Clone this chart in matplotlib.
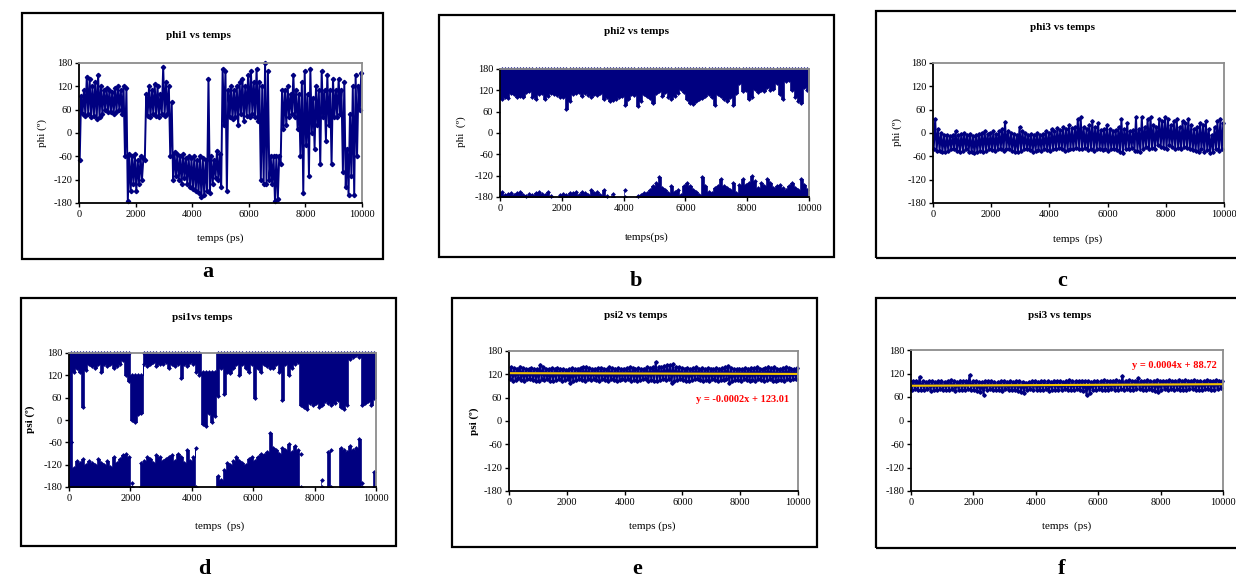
import numpy as np
import matplotlib
matplotlib.use('Agg')
import matplotlib.pyplot as plt
from matplotlib.patches import Rectangle

plt.rcParams['font.family'] = ['Liberation Serif', 'DejaVu Serif']
plt.rcParams['axes.unicode_minus'] = False

W, H = 1236, 578
NAVY = '#000080'

# time bins of 100 ps, each bin gives min / max of the angle (deg)
temps = np.arange(100) * 100

phi1_lo = [-70, 50, 45, 50, 40, 45, 35, 40, 50, 60,
           55, 55, 50, 55, 60, 50, -60, -175, -150, -130,
           -150, -130, -120, -70, 45, 40, 50, 45, 40, 50,
           45, 50, -60, -120, -110, -120, -130, -115, -130, -140,
           -145, -150, -155, -165, -160, -150, -155, -130, -115, -120,
           -140, 20, -150, 40, 35, 40, 20, 50, 30, 45,
           40, 50, 40, 30, -120, -130, -130, -120, -130, -175,
           -170, -80, 10, 20, 40, 50, 40, 10, -60, -155,
           -30, -110, 0, -40, 20, -80, 40, -20, 20, -80,
           40, 40, 50, -100, -140, -160, -110, -160, -60, 60]
phi1_hi = [95, 110, 145, 140, 120, 130, 150, 120, 110, 115,
           110, 105, 115, 120, 110, 120, 115, -55, -60, -55,
           -70, -60, -65, 100, 120, 110, 125, 120, 100, 170,
           130, 120, 80, -50, -55, -60, -55, -65, -60, -65,
           -60, -70, -60, -65, -70, 140, -60, -70, -45, -55,
           165, 160, 110, 120, 110, 120, 130, 140, 120, 150,
           160, 130, 165, 130, 120, 180, 160, -60, -60, -60,
           -60, 110, 110, 120, 100, 150, 110, 100, 130, 160,
           100, 165, 90, 120, 110, 160, 110, 150, 110, 140,
           110, 140, 110, 130, -40, 50, 120, 150, 120, 155]

phi2_up_lo = [95, 100, 98, 112, 110, 100, 105, 102, 115, 118,
              100, 95, 110, 112, 96, 105, 112, 110, 108, 102,
              100, 68, 90, 110, 112, 115, 105, 112, 108, 100,
              110, 106, 112, 95, 100, 90, 92, 95, 100, 105,
              80, 95, 110, 108, 75, 90, 110, 105, 98, 85,
              112, 118, 105, 115, 100, 95, 105, 112, 125, 115,
              95, 85, 82, 90, 95, 98, 105, 110, 100, 80,
              110, 105, 95, 90, 100, 78, 112, 140, 118, 120,
              95, 100, 125, 115, 120, 118, 130, 120, 125, 140,
              110, 95, 145, 150, 120, 100, 90, 85, 130, 120]
nan = np.nan
phi2_dn_hi = [-165, -175, -172, -170, -175, -168, -165, -175, -178, -172,
              -175, -170, -165, -172, -175, -165, -178, nan, nan, -175,
              -172, -175, -168, -170, -165, -175, -165, -170, -175, -160,
              -170, -165, -175, -160, -178, nan, -172, nan, nan, nan,
              -160, nan, nan, nan, -178, -175, -170, -168, -160, -150,
              -140, -125, -155, -160, -170, -150, -165, -160, -175, -150,
              -140, -150, -160, -165, -175, -125, -150, -165, -170, -155,
              -150, -130, -150, -155, -160, -140, -170, -145, -130, -145,
              -140, -120, -135, -155, -140, -150, -130, -140, -155, -150,
              -145, -155, -160, -150, -140, -155, -160, -130, -145, -160]

phi3_lo = [-40, -45, -45, -48, -50, -45, -40, -42, -45, -48,
           -45, -42, -48, -50, -52, -50, -45, -48, -45, -42,
           -44, -46, -40, -42, -45, -40, -42, -45, -50, -48,
           -45, -40, -42, -44, -48, -45, -44, -45, -42, -44,
           -45, -40, -42, -38, -42, -45, -44, -40, -42, -38,
           -40, -42, -38, -44, -40, -45, -42, -40, -44, -42,
           -45, -40, -42, -44, -48, -52, -40, -42, -38, -45,
           -45, -48, -40, -35, -42, -38, -40, -30, -35, -38,
           -40, -32, -35, -40, -38, -42, -35, -38, -40, -44,
           -45, -48, -42, -50, -44, -52, -48, -40, -45, -42]
phi3_hi = [35, 10, 0, -5, -5, -8, -5, 5, -5, -2,
           0, -5, -2, -8, -5, -2, 0, 5, -2, 0,
           5, -2, 5, 10, 28, 5, 0, -2, -5, 15,
           5, 0, -5, -2, -5, 0, -5, -2, 5, 0,
           10, 5, 12, 8, 15, 10, 20, 12, 15, 35,
           40, 15, 10, 20, 30, 15, 25, 8, 10, 20,
           10, 5, 8, 15, 35, 10, 25, 5, 8, 40,
           10, 40, 15, 35, 40, 20, 15, 35, 30, 40,
           35, 20, 30, 35, 15, 30, 25, 35, 20, 10,
           15, 25, 20, 30, 10, -5, 15, 30, 35, 25]

psi1_up_lo = [-60, 130, 140, 130, 35, 135, 150, 145, 140, 150,
              130, 150, 145, 150, 140, 145, 150, 160, 120, 105,
              0, -5, 15, 20, 150, 145, 150, 155, 145, 150,
              150, 155, 140, 150, 145, 150, 112, 150, 145, 155,
              150, 130, 120, -10, -15, 20, -5, 10, 65, 140,
              70, 130, 125, 140, 150, 120, 150, 140, 130, 150,
              60, 140, 130, 150, 145, 140, 140, 150, 130, 55,
              150, 120, 140, 150, 155, 40, 35, 30, 45, 40,
              45, 35, 40, 50, 45, 40, 45, 55, 35, 30,
              40, 165, 170, 175, 170, 40, 45, 50, 40, 60]
psi1_up_hi = [180] * 20 + [120] * 4 + [180] * 19 + [130] * 5 + [180] * 52
psi1_dn_hi = [-60, -130, -110, -115, -105, -120, -110, -115, -120, -105,
              -115, -120, -110, -125, -100, -115, -105, -95, -90, -100,
              -170, nan, nan, -115, -110, -100, -105, -115, -95, -100,
              -110, -105, -100, -95, -110, -90, -100, -115, -80, -110,
              -100, -75, nan, nan, nan, nan, nan, nan, -150, -160,
              -135, -115, -120, -110, -100, -110, -115, -120, -105, -100,
              -110, -100, -90, -95, -85, -35, -75, -80, -90, -75,
              -80, -65, -85, -70, -80, -90, nan, nan, nan, nan,
              nan, nan, -160, nan, -85, -80, nan, nan, -75, -80,
              -85, -70, -80, -75, -50, -170, nan, nan, nan, -140]

psi2_lo = [108, 104, 106, 110, 105, 103, 107, 109, 106, 104,
           102, 108, 105, 107, 104, 103, 106, 108, 104, 105,
           107, 97, 103, 106, 108, 105, 104, 107, 106, 109,
           105, 104, 108, 106, 103, 107, 105, 104, 106, 108,
           105, 107, 104, 106, 103, 105, 108, 107, 104, 106,
           104, 103, 106, 107, 105, 108, 98, 104, 106, 107,
           105, 104, 103, 106, 107, 108, 105, 104, 106, 103,
           107, 105, 104, 106, 105, 108, 98, 102, 105, 106,
           104, 107, 105, 103, 106, 104, 108, 106, 104, 105,
           107, 103, 102, 106, 105, 104, 107, 106, 108, 109]
psi2_hi = [138, 136, 135, 140, 137, 134, 133, 136, 135, 134,
           145, 138, 135, 133, 136, 134, 137, 135, 133, 132,
           134, 136, 133, 135, 137, 138, 140, 136, 134, 135,
           136, 137, 135, 134, 138, 136, 135, 137, 134, 135,
           136, 138, 137, 135, 136, 134, 135, 138, 137, 139,
           152, 140, 138, 142, 143, 144, 146, 140, 138, 136,
           135, 137, 134, 136, 138, 135, 137, 134, 136, 135,
           134, 137, 135, 136, 138, 142, 136, 134, 133, 135,
           134, 136, 135, 137, 136, 138, 135, 134, 137, 140,
           136, 138, 135, 134, 137, 139, 136, 135, 134, 136]
psi2_fit = [-0.0002, 123.01]

psi3_lo = [78, 80, 77, 79, 78, 80, 76, 79, 78, 80,
           77, 79, 78, 80, 76, 78, 79, 77, 80, 78,
           79, 76, 72, 66, 78, 80, 77, 79, 78, 76,
           80, 77, 78, 79, 76, 74, 70, 78, 80, 79,
           78, 77, 79, 80, 76, 78, 79, 77, 78, 80,
           79, 77, 78, 80, 79, 76, 64, 70, 77, 79,
           80, 78, 79, 77, 80, 78, 79, 81, 78, 80,
           79, 78, 80, 81, 79, 77, 80, 78, 76, 72,
           79, 80, 78, 81, 79, 80, 78, 77, 79, 81,
           80, 78, 79, 77, 80, 81, 79, 78, 80, 82]
psi3_hi = [100, 102, 112, 100, 99, 101, 100, 98, 100, 102,
           99, 101, 104, 100, 99, 102, 100, 101, 116, 100,
           101, 99, 98, 100, 101, 100, 99, 98, 100, 101,
           99, 100, 98, 101, 100, 99, 97, 98, 100, 101,
           99, 100, 101, 100, 98, 102, 101, 100, 99, 102,
           103, 100, 101, 100, 102, 101, 100, 99, 101, 102,
           100, 103, 101, 100, 102, 104, 101, 114, 102, 103,
           101, 100, 109, 102, 101, 103, 100, 102, 104, 101,
           102, 100, 103, 101, 102, 104, 100, 103, 101, 102,
           103, 101, 102, 100, 103, 102, 101, 103, 102, 101]
psi3_fit = [0.0004, 88.72]

fig = plt.figure(figsize=(W / 100, H / 100), dpi=100)


def ftext(x, y, s, **kw):
    fig.text(x / W, 1 - y / H, s, ha='center', va='center', **kw)


def frame(l, t, r, b):
    fig.patches.append(Rectangle((l / W, 1 - b / H), (r - l) / W, (b - t) / H,
                                 transform=fig.transFigure, fill=False,
                                 ec='black', lw=1.6))


def make_ax(l, t, r, b):
    ax = fig.add_axes([l / W, 1 - b / H, (r - l) / W, (b - t) / H])
    ax.set_xlim(0, 10000)
    ax.set_ylim(-180, 180)
    ax.set_xticks(range(0, 10001, 2000))
    ax.set_yticks(range(-180, 181, 60))
    for s in ['top', 'right']:
        ax.spines[s].set_color('#8c8c8c')
        ax.spines[s].set_linewidth(1.3)
    for s in ['left', 'bottom']:
        ax.spines[s].set_color('black')
        ax.spines[s].set_linewidth(1.3)
    ax.tick_params(direction='out', length=3, width=1, labelsize=7.5, pad=2)
    return ax


def zigzag(ax, lo, hi, ms=2.2):
    x = np.column_stack([temps + 25, temps + 75]).ravel()
    y = np.column_stack([lo, hi]).ravel()
    ax.plot(x, y, color=NAVY, lw=1.4, marker='D', ms=ms, clip_on=False)


def band(ax, lo, hi):
    lo = np.asarray(lo, float)
    hi = np.asarray(hi, float)
    x = np.append(temps, 10000)
    ok = ~(np.isnan(lo) | np.isnan(hi))
    ax.fill_between(x, np.append(lo, lo[-1]), np.append(hi, hi[-1]),
                    where=np.append(ok, ok[-1]), step='post', color=NAVY,
                    lw=0.5, ec=NAVY)
    ax.scatter(temps[ok] + 50, lo[ok], s=6, marker='D', color=NAVY, lw=0)
    ax.scatter(temps[ok] + 50, hi[ok], s=6, marker='D', color=NAVY, lw=0,
               clip_on=False)


# a : phi1
frame(22, 13, 383, 259)
ax = make_ax(79, 63, 362, 203)
zigzag(ax, phi1_lo, phi1_hi)
ftext(198, 35, 'phi1 vs temps', fontsize=8, fontweight='bold')
ftext(42, 133, 'phi (º)', fontsize=8, rotation=90)
ftext(220, 238, 'temps (ps)', fontsize=8)
ftext(208, 272, 'a', fontsize=16, fontweight='bold')

# b : phi2
frame(439, 15, 834, 257)
ax = make_ax(500, 69, 809, 197)
band(ax, phi2_up_lo, [180] * 100)
band(ax, [-180] * 100, phi2_dn_hi)
ftext(637, 32, 'phi2 vs temps', fontsize=8, fontweight='bold')
ftext(461, 132, 'phi  (º)', fontsize=8, rotation=90)
ftext(647, 237, 'temps(ps)', fontsize=8)
ftext(636, 281, 'b', fontsize=16, fontweight='bold')

# c : phi3
frame(876, 11, 1245, 258)
ax = make_ax(933, 63, 1224, 203)
zigzag(ax, phi3_lo, phi3_hi, ms=1.8)
ftext(1062, 27, 'phi3 vs temps', fontsize=8, fontweight='bold')
ftext(897, 132, 'phi (º)', fontsize=8, rotation=90)
ftext(1078, 239, 'temps  (ps)', fontsize=8)
ftext(1062, 281, 'c', fontsize=16, fontweight='bold')

# d : psi1
frame(21, 298, 396, 546)
ax = make_ax(69, 353, 376, 487)
band(ax, psi1_up_lo, psi1_up_hi)
band(ax, [-180] * 100, psi1_dn_hi)
ftext(202, 318, 'psi1vs temps', fontsize=8, fontweight='bold')
ftext(30, 419, 'psi (º)', fontsize=8, fontweight='bold', rotation=90)
ftext(220, 526, 'temps  (ps)', fontsize=8)
ftext(204, 569, 'd', fontsize=16, fontweight='bold')

# e : psi2
frame(452, 298, 817, 547)
ax = make_ax(509, 351, 798, 491)
zigzag(ax, psi2_lo, psi2_hi, ms=1.8)
xf = np.array([0, 10000])
ax.plot(xf, psi2_fit[0] * xf + psi2_fit[1], color='#F2C200', lw=1.5)
ftext(636, 315, 'psi2 vs temps', fontsize=8, fontweight='bold')
ftext(474, 421, 'psi (º)', fontsize=8, fontweight='bold', rotation=90)
ftext(652, 526, 'temps (ps)', fontsize=8)
ftext(743, 399, 'y = -0.0002x + 123.01', fontsize=7.5, fontweight='bold', color='red')
ftext(637, 569, 'e', fontsize=16, fontweight='bold')

# f : psi3
frame(876, 298, 1245, 548)
ax = make_ax(911, 350, 1223, 491)
zigzag(ax, psi3_lo, psi3_hi, ms=1.8)
ax.plot(xf, psi3_fit[0] * xf + psi3_fit[1], color='#F2C200', lw=1.5)
ftext(1060, 315, 'psi3 vs temps', fontsize=8, fontweight='bold')
ftext(1067, 526, 'temps  (ps)', fontsize=8)
ftext(1174, 366, 'y = 0.0004x + 88.72', fontsize=7.5, fontweight='bold', color='red')
ftext(1062, 569, 'f', fontsize=16, fontweight='bold')

fig.savefig('out.png', dpi=100)
